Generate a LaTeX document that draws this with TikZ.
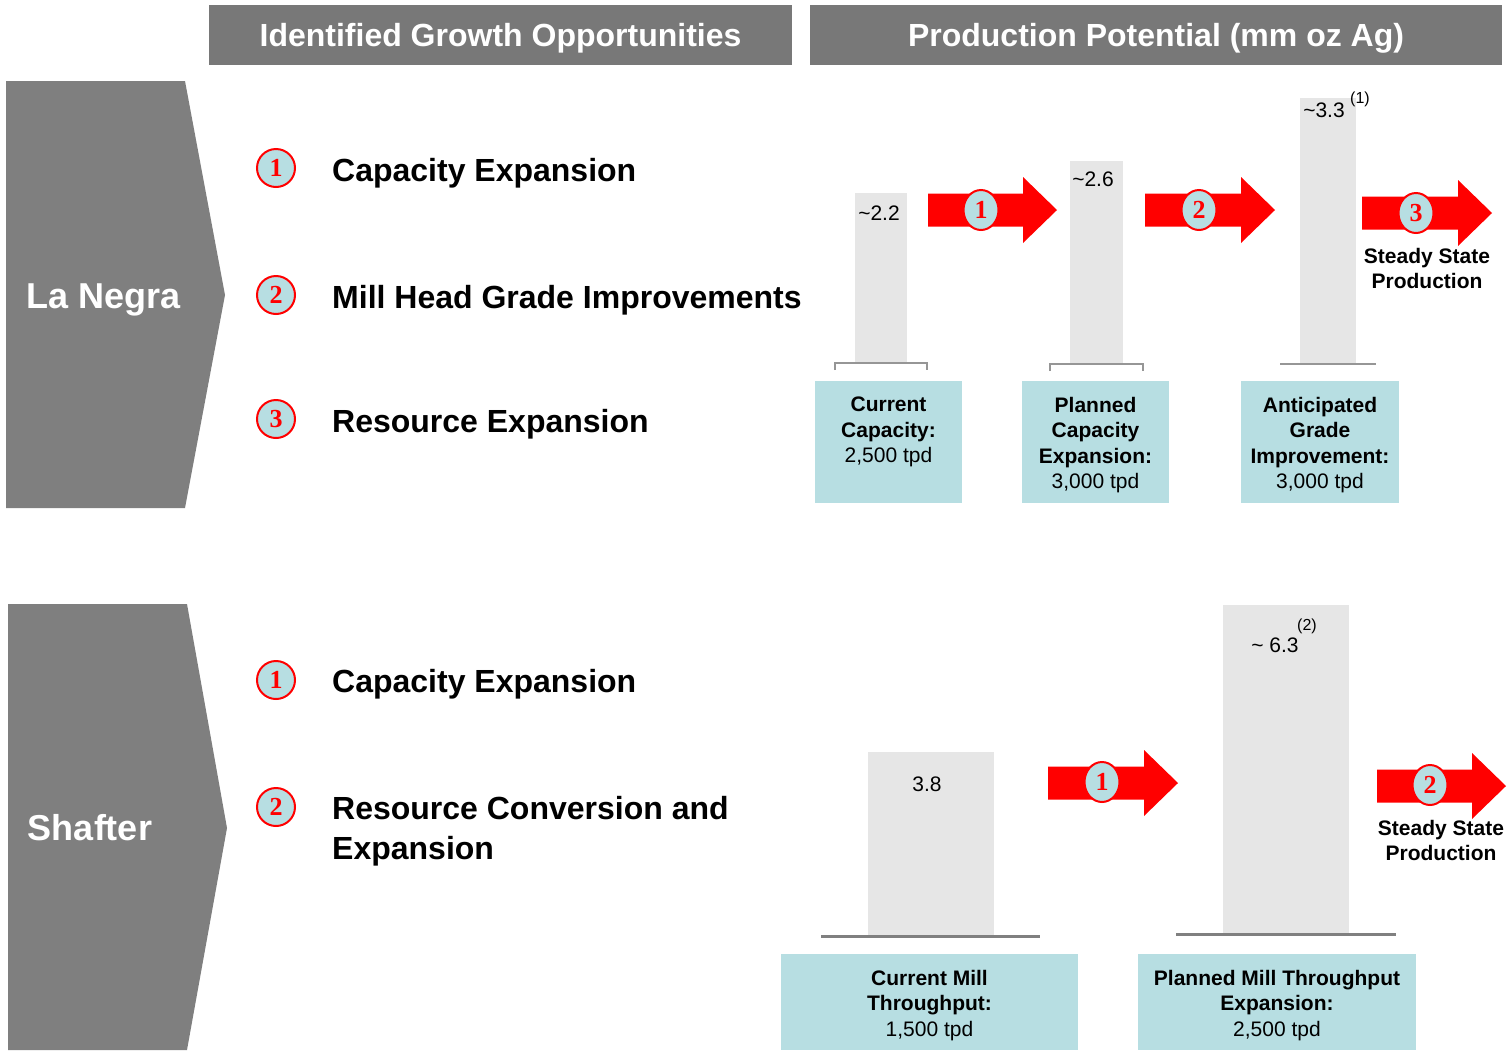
\documentclass[tikz,border=0pt]{standalone}
\usepackage{fontspec}
\setmainfont{Liberation Sans}
\newfontfamily\numfont{Liberation Serif}
\usetikzlibrary{shapes.geometric}
\definecolor{slate}{RGB}{127, 127, 127}
\definecolor{headgray}{RGB}{120, 120, 120}
\definecolor{powderblue}{RGB}{183, 222, 226}
\definecolor{barfill}{RGB}{230, 230, 230}
\definecolor{axisgray}{RGB}{150, 150, 150}
\definecolor{axisdark}{RGB}{128, 128, 128}
\definecolor{signalred}{RGB}{255, 0, 0}

\tikzset{
  header/.style={fill=headgray, text=white, inner sep=0pt, text height=30pt, text depth=7pt,
                 font=\fontsize{32}{38}\selectfont\bfseries},
  site/.style={text=white, inner sep=0pt, font=\fontsize{36}{42}\selectfont\bfseries},
  item/.style={anchor=base west, inner sep=0pt, font=\fontsize{32}{40}\selectfont\bfseries},
  numbadge/.style={circle, draw=signalred, line width=2pt, fill=powderblue, minimum size=38pt,
                   inner sep=0pt, text=signalred, font=\numfont\bfseries\fontsize{26}{26}\selectfont},
  arrowbadge/.style={numbadge, ellipse, minimum width=35pt, minimum height=40pt},
  barvalue/.style={inner sep=0pt, font=\fontsize{21}{25}\selectfont},
  footmark/.style={inner sep=0pt, font=\fontsize{16}{18}\selectfont},
  stagebox/.style={fill=powderblue, inner sep=0pt},
  stagetext/.style={anchor=north, align=center, inner sep=0pt, font=\fontsize{21}{25.5}\selectfont},
  steadytext/.style={align=center, inner sep=0pt, font=\fontsize{21}{25}\selectfont\bfseries}
}

% fat red arrow: left x, centre y, tip x
\newcommand{\fatarrow}[3]{%
  \fill[signalred] (#1,#2-16.5) -- (#3-34,#2-16.5) -- (#3-34,#2-33) -- (#3,#2)
    -- (#3-34,#2+33) -- (#3-34,#2+16.5) -- (#1,#2+16.5) -- cycle;}

\begin{document}
\begin{tikzpicture}[x=1pt, y=-1pt]
  \useasboundingbox (0,0) rectangle (1508,1050);

  % headers
  \node[header, minimum width=583pt, minimum height=60pt] (hdgrowth) at (500.5,35) {Identified Growth Opportunities};
  \node[header, minimum width=692pt, minimum height=60pt] (hdprod)   at (1156,35)  {Production Potential (mm oz Ag)};

  % site chevrons
  \fill[slate] (6,81) -- (185,81) -- (225,295) -- (185,508) -- (6,508) -- cycle;
  \node[site] (lanegra) at (104,300) {La Negra};
  \fill[slate] (8,604) -- (187,604) -- (227,828) -- (187,1050) -- (8,1050) -- cycle;
  \node[site] (shafter) at (90,828) {Shafter};

  % La Negra opportunities
  \node[numbadge] (ln1) at (276,168) {1};
  \node[item] (ln1txt) at (332,181) {Capacity Expansion};
  \node[numbadge] (ln2) at (276,295) {2};
  \node[item] (ln2txt) at (332,308) {Mill Head Grade Improvements};
  \node[numbadge] (ln3) at (276,419) {3};
  \node[item] (ln3txt) at (332,432) {Resource Expansion};

  % Shafter opportunities
  \node[numbadge] (sh1) at (276,680) {1};
  \node[item] (sh1txt) at (332,692) {Capacity Expansion};
  \node[numbadge] (sh2) at (276,807) {2};
  \node[item, anchor=north west, align=left] (sh2txt) at (332,796) {Resource Conversion and\\Expansion};

  % La Negra bars
  \fill[barfill] (855,193) rectangle (907,363);
  \fill[barfill] (1070,161) rectangle (1123,364);
  \fill[barfill] (1300,98) rectangle (1356,364);
  \draw[axisgray, line width=1.5pt] (835,370) -- (835,363) -- (927,363) -- (927,370);
  \draw[axisgray, line width=1.5pt] (1050,371) -- (1050,364) -- (1143,364) -- (1143,371);
  \draw[axisgray, line width=1.5pt] (1280,364) -- (1376,364);
  \node[barvalue] (lnval1) at (879,213) {\textasciitilde2.2};
  \node[barvalue] (lnval2) at (1093,179) {\textasciitilde2.6};
  \node[barvalue] (lnval3) at (1324,110) {\textasciitilde3.3};
  \node[footmark] (lnnote) at (1360,99) {(1)};

  \fatarrow{928}{210}{1057}
  \node[arrowbadge] (lnstep1) at (981,210) {1};
  \fatarrow{1145}{210}{1275}
  \node[arrowbadge] (lnstep2) at (1199,210) {2};
  \fatarrow{1362}{213}{1492}
  \node[arrowbadge] (lnstep3) at (1416,213) {3};
  \node[steadytext] (lnsteady) at (1427,268) {Steady State\\Production};

  \node[stagebox, minimum width=147pt, minimum height=122pt] (lncur) at (888.5,442) {};
  \node[stagetext] (lncurtxt) at ([yshift=-16pt]lncur.north) {\textbf{Current}\\\textbf{Capacity:}\\2,500 tpd};
  \node[stagebox, minimum width=147pt, minimum height=122pt] (lnplan) at (1095.5,442) {};
  \node[stagetext] (lnplantxt) at ([yshift=-16pt]lnplan.north) {\textbf{Planned}\\\textbf{Capacity}\\\textbf{Expansion:}\\3,000 tpd};
  \node[stagebox, minimum width=158pt, minimum height=122pt] (lngrade) at (1320,442) {};
  \node[stagetext] (lngradetxt) at ([yshift=-16pt]lngrade.north) {\textbf{Anticipated}\\\textbf{Grade}\\\textbf{Improvement:}\\3,000 tpd};

  % Shafter bars
  \fill[barfill] (868,752) rectangle (994,935);
  \fill[barfill] (1223,605) rectangle (1349,934);
  \draw[axisdark, line width=3pt] (821,936) -- (1040,936);
  \draw[axisdark, line width=3pt] (1176,934) -- (1396,934);
  \node[barvalue] (shval1) at (927,784) {3.8};
  \node[barvalue] (shval2) at (1275,645) {\textasciitilde{} 6.3};
  \node[footmark] (shnote) at (1307,626) {(2)};

  \fatarrow{1048}{783}{1178}
  \node[arrowbadge] (shstep1) at (1102,782) {1};
  \fatarrow{1377}{786}{1506}
  \node[arrowbadge] (shstep2) at (1430,785) {2};
  \node[steadytext] (shsteady) at (1441,840) {Steady State\\Production};

  \node[stagebox, minimum width=297pt, minimum height=96pt] (shcur) at (929.5,1002) {};
  \node[stagetext] (shcurtxt) at ([yshift=-16pt]shcur.north) {\textbf{Current Mill}\\\textbf{Throughput:}\\1,500 tpd};
  \node[stagebox, minimum width=278pt, minimum height=96pt] (shplan) at (1277,1002) {};
  \node[stagetext] (shplantxt) at ([yshift=-16pt]shplan.north) {\textbf{Planned Mill Throughput}\\\textbf{Expansion:}\\2,500 tpd};
\end{tikzpicture}
\end{document}
